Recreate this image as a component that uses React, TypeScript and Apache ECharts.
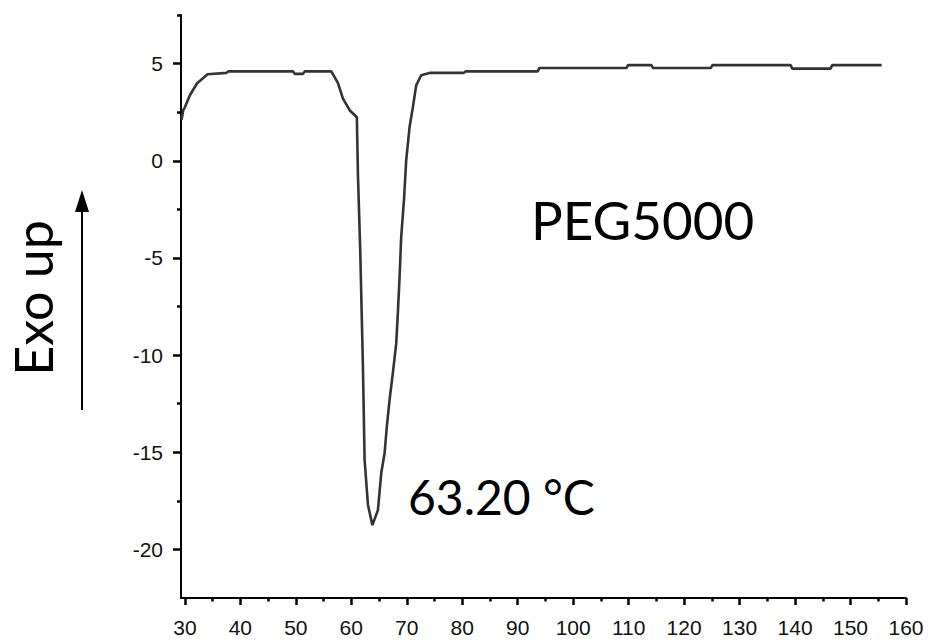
import React, { useEffect, useRef } from "react";
import * as echarts from "echarts";

// Temperature (°C) and heat-flow readings of the DSC trace
const temperature: number[] = [
  29.4, 29.7, 30.0, 30.9, 32.2, 34.1, 37.5, 37.8, 49.5, 49.8, 51.3, 51.6, 56.4,
  57.6, 58.5, 59.7, 61.0, 61.2, 61.6, 62.1, 62.4, 63.0, 63.8, 64.8, 65.4, 66.0,
  66.4, 66.9, 67.5, 68.1, 68.4, 68.7, 69.0, 69.5, 69.9, 70.5, 71.1, 71.7, 72.6,
  74.1, 80.3, 80.6, 93.6, 93.9, 109.6, 109.9, 114.1, 114.4, 124.8, 125.1, 139.2,
  139.5, 146.4, 146.7, 155.6,
];
const heatFlow: number[] = [
  2.1, 2.6, 2.75, 3.37, 3.99, 4.45, 4.52, 4.6, 4.6, 4.47, 4.47, 4.6, 4.6,
  3.99, 3.2, 2.6, 2.24, -0.75, -4.5, -10.6, -15.4, -17.7, -18.75, -17.98, -16.07, -15.05,
  -13.7, -12.3, -10.9, -9.4, -7.8, -6.0, -3.9, -2.0, 0.03, 1.72, 2.75, 3.88, 4.4,
  4.52, 4.52, 4.6, 4.6, 4.77, 4.77, 4.92, 4.92, 4.77, 4.77, 4.92, 4.92,
  4.74, 4.74, 4.92, 4.92,
];

const xMajorTicks: number[] = [30, 40, 50, 60, 70, 80, 90, 100, 110, 120, 130, 140, 150, 160];
const xMinorTicks: number[] = [35, 45, 55, 65, 75, 85, 95, 105, 115, 125, 135, 145, 155];
const yMajorTicks: number[] = [-20, -15, -10, -5, 0, 5];
const yMinorTicks: number[] = [-17.5, -12.5, -7.5, -2.5, 2.5, 7.5];

const sampleLabel = "PEG5000";
const peakLabel = "63.20 °C";
const yTitle = "Exo up";

export default function App() {
  const ref = useRef<HTMLDivElement>(null);

  useEffect(() => {
    if (!ref.current) return;
    const chart = echarts.init(ref.current, null, { renderer: "svg" });
    const data = temperature.map((t, i) => [t, heatFlow[i]]);
    const labelStyle = {
      fontFamily: "Liberation Sans, Arial, sans-serif",
      fontSize: 21,
      color: "#111",
    };
    const annoFont = "Lato, Noto Sans, sans-serif";
    chart.setOption({
      animation: false,
      backgroundColor: "#ffffff",
      grid: { left: 181, right: 26, top: 15, bottom: 45 },
      xAxis: [
        {
          type: "value",
          position: "bottom",
          min: 29.3,
          max: 160,
          axisLine: { show: true, onZero: false, lineStyle: { color: "#000", width: 2 } },
          axisTick: {
            show: true,
            customValues: xMajorTicks,
            length: 7,
            lineStyle: { color: "#000", width: 2.5 },
          },
          axisLabel: { ...labelStyle, customValues: xMajorTicks, margin: 19 },
          splitLine: { show: false },
        },
        {
          type: "value",
          position: "bottom",
          min: 29.3,
          max: 160,
          axisLine: { show: false, onZero: false },
          axisTick: {
            show: true,
            customValues: xMinorTicks,
            length: 3.5,
            lineStyle: { color: "#000", width: 2.5 },
          },
          axisLabel: { show: false },
          splitLine: { show: false },
        },
      ],
      yAxis: [
        {
          type: "value",
          position: "left",
          min: -22.5,
          max: 7.5,
          axisLine: { show: true, onZero: false, lineStyle: { color: "#000", width: 2 } },
          axisTick: {
            show: true,
            customValues: yMajorTicks,
            length: 8,
            lineStyle: { color: "#000", width: 2.5 },
          },
          axisLabel: { ...labelStyle, customValues: yMajorTicks, margin: 18 },
          splitLine: { show: false },
        },
        {
          type: "value",
          position: "left",
          min: -22.5,
          max: 7.5,
          axisLine: { show: false, onZero: false },
          axisTick: {
            show: true,
            customValues: yMinorTicks,
            length: 4,
            lineStyle: { color: "#000", width: 2.5 },
          },
          axisLabel: { show: false },
          splitLine: { show: false },
        },
      ],
      series: [
        {
          type: "line",
          xAxisIndex: 0,
          yAxisIndex: 0,
          data,
          showSymbol: false,
          symbol: "none",
          lineStyle: { color: "#333333", width: 2.6 },
        },
      ],
      graphic: [
        {
          type: "text",
          x: 531,
          y: 219,
          style: {
            text: sampleLabel,
            fontFamily: annoFont,
            fontSize: 53,
            fill: "#000",
            align: "left",
            verticalAlign: "middle",
          },
        },
        {
          type: "text",
          x: 408,
          y: 496,
          style: {
            text: peakLabel,
            fontFamily: annoFont,
            fontSize: 48,
            fill: "#000",
            align: "left",
            verticalAlign: "middle",
          },
        },
        {
          type: "text",
          x: 33,
          y: 298,
          rotation: Math.PI / 2,
          style: {
            text: yTitle,
            fontFamily: annoFont,
            fontSize: 52,
            lineHeight: 52,
            fill: "#000",
            align: "center",
            verticalAlign: "middle",
          },
        },
        {
          type: "line",
          shape: { x1: 82, y1: 410, x2: 82, y2: 205 },
          style: { stroke: "#000", lineWidth: 2 },
        },
        {
          type: "polygon",
          shape: { points: [[82, 190], [75, 212], [89, 212]] },
          style: { fill: "#000" },
        },
      ],
    });
    return () => chart.dispose();
  }, []);

  return (
    <div
      ref={ref}
      style={{ position: "absolute", left: 0, top: 0, width: 932, height: 643, background: "#fff" }}
    />
  );
}
